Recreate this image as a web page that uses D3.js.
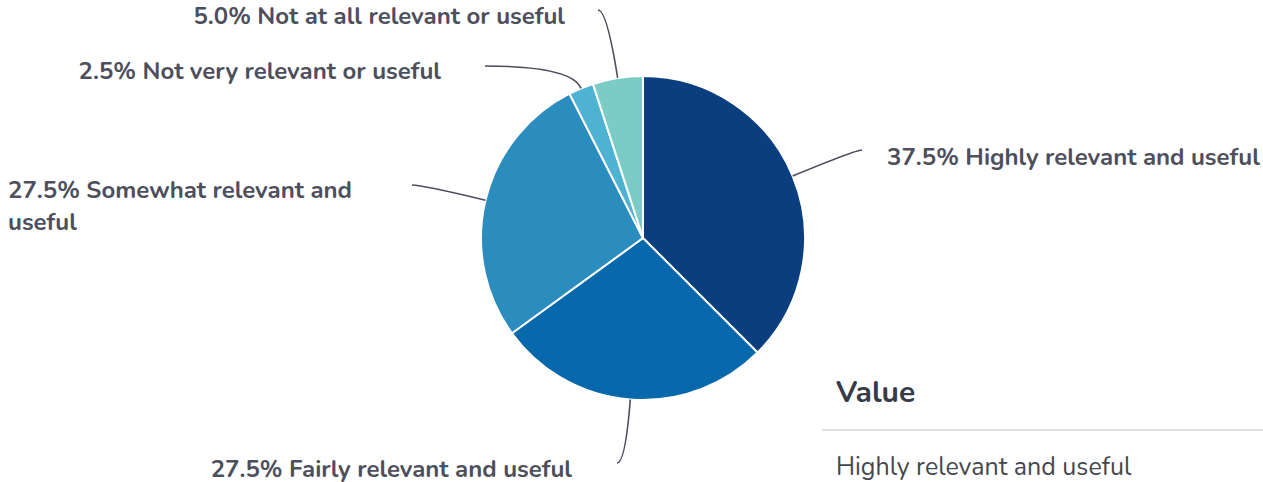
<!DOCTYPE html>
<html>
<head>
<meta charset="utf-8">
<script src="https://cdn.jsdelivr.net/npm/d3@7"></script>
<style>
  html, body { margin: 0; padding: 0; background: #fff; }
  svg { display: block; font-family: Nunito, Lato, "Open Sans", sans-serif; }
</style>
</head>
<body>
<div id="chart"></div>
<script>
// chart data
const categories = [
  'Highly relevant and useful',
  'Fairly relevant and useful',
  'Somewhat relevant and useful',
  'Not very relevant or useful',
  'Not at all relevant or useful'
];
const values = [37.5, 27.5, 27.5, 2.5, 5.0];
const colors = ['#0a3e7e', '#0868ac', '#2b8cbe', '#4eb3d3', '#7bccc4'];

// label layout (anchor point of each label text, one entry per slice)
const labelLayout = [
  { x: 887, y: 165, anchor: 'start', end: [862, 150], lines: null },
  { x: 572, y: 477, anchor: 'end', end: [617, 463], lines: null },
  { x: 8, y: 198, anchor: 'start', end: [412, 185], lines: ['27.5% Somewhat relevant and', 'useful'] },
  { x: 441, y: 79, anchor: 'end', end: [485, 66], lines: null },
  { x: 565, y: 24, anchor: 'end', end: [598, 10], lines: null }
];

const width = 1263;
const height = 482;
const cx = 643, cy = 238, radius = 162;

const svg = d3.select('#chart')
  .append('svg')
  .attr('width', width)
  .attr('height', height);

const pie = d3.pie().sort(null).value(d => d.value);
const arc = d3.arc().innerRadius(0).outerRadius(radius);

const rows = categories.map((c, i) => ({ name: c, value: values[i], color: colors[i], layout: labelLayout[i] }));
const arcs = pie(rows);

const g = svg.append('g').attr('transform', `translate(${cx},${cy})`);

g.selectAll('path.slice')
  .data(arcs)
  .join('path')
  .attr('class', 'slice')
  .attr('d', arc)
  .attr('fill', d => d.data.color)
  .attr('stroke', '#fff')
  .attr('stroke-width', 2);

// leader lines
function leader(d) {
  const mid = (d.startAngle + d.endAngle) / 2;
  const dx = Math.sin(mid), dy = -Math.cos(mid);
  const x0 = cx + dx * radius, y0 = cy + dy * radius;
  const [x2, y2] = d.data.layout.end;
  // control point on the radial ray at the height of the end point
  let t = Math.abs(dy) > 0.05 ? (y2 - y0) / dy : 30;
  t = Math.max(0, t);
  const x1 = x0 + dx * t, y1 = y0 + dy * t;
  const p = d3.path();
  p.moveTo(x0, y0);
  p.quadraticCurveTo(x1, y1, x2, y2);
  return p.toString();
}

svg.append('g')
  .selectAll('path')
  .data(arcs)
  .join('path')
  .attr('d', leader)
  .attr('fill', 'none')
  .attr('stroke', '#4a4d5a')
  .attr('stroke-width', 1.6);

// labels
const labels = svg.append('g')
  .selectAll('text')
  .data(arcs)
  .join('text')
  .attr('x', d => d.data.layout.x)
  .attr('y', d => d.data.layout.y)
  .attr('text-anchor', d => d.data.layout.anchor)
  .attr('fill', '#4d4f5c')
  .style('font-size', '24px')
  .style('font-weight', 700);

labels.each(function (d) {
  const lines = d.data.layout.lines || [d3.format('.1f')(d.data.value) + '% ' + d.data.name];
  d3.select(this).selectAll('tspan')
    .data(lines)
    .join('tspan')
    .attr('x', d.data.layout.x)
    .attr('dy', (l, i) => i === 0 ? 0 : 32)
    .text(l => l);
});

// value table at the bottom right
const table = svg.append('g');
table.append('text')
  .attr('x', 836)
  .attr('y', 402)
  .attr('fill', '#363b47')
  .style('font-size', '30px')
  .style('font-weight', 700)
  .text('Value');
table.append('line')
  .attr('x1', 822).attr('x2', width)
  .attr('y1', 430).attr('y2', 430)
  .attr('stroke', '#d4d4d4')
  .attr('stroke-width', 1.5);
table.append('text')
  .attr('x', 836)
  .attr('y', 475)
  .attr('fill', '#45474f')
  .style('font-size', '25px')
  .text(categories[0]);
</script>
</body>
</html>
